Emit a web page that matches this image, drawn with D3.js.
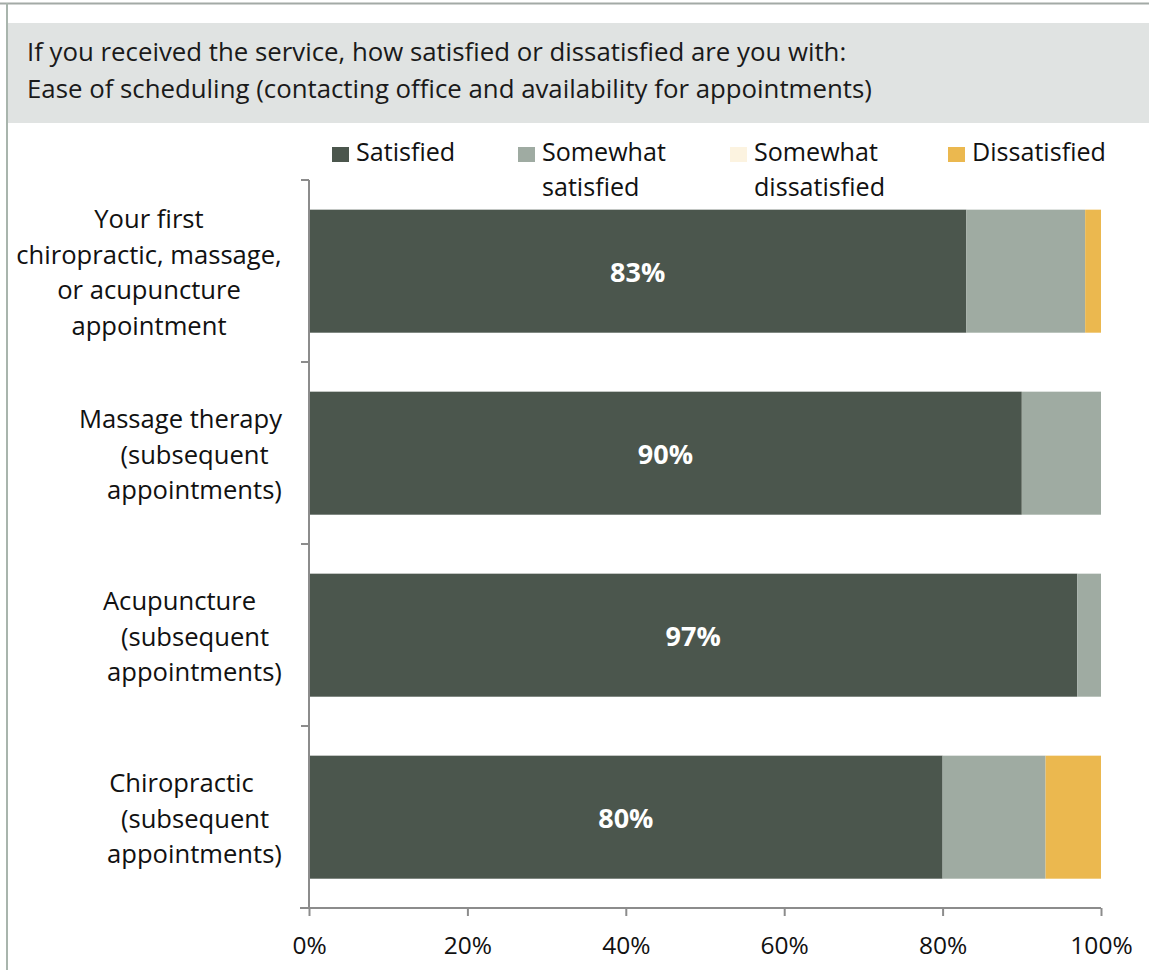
<!DOCTYPE html>
<html><head><meta charset="utf-8">
<script src="https://cdn.jsdelivr.net/npm/d3@7"></script>
<style>
html,body{margin:0;padding:0;background:#fff;}
svg{display:block;font-family:"Open Sans",sans-serif;}
</style></head>
<body>
<svg id="chart" width="1149" height="970"></svg>
<script>
const categories = ["first","massage","acupuncture","chiropractic"];
const categoryLines = [
  ["Your first","chiropractic, massage,","or acupuncture","appointment"],
  ["Massage therapy","(subsequent","appointments)"],
  ["Acupuncture","(subsequent","appointments)"],
  ["Chiropractic","(subsequent","appointments)"]
];
const seriesNames = ["Satisfied","Somewhat satisfied","Somewhat dissatisfied","Dissatisfied"];
const legendLines = [["Satisfied"],["Somewhat","satisfied"],["Somewhat","dissatisfied"],["Dissatisfied"]];
const satisfied = [83,90,97,80];
const somewhatSatisfied = [15,10,3,13];
const somewhatDissatisfied = [0,0,0,0];
const dissatisfied = [2,0,0,7];
const xTicks = [0,20,40,60,80,100];
const titleLines = ["If you received the service, how satisfied or dissatisfied are you with:",
  "Ease of scheduling (contacting office and availability for appointments)"];
const colors = ["#4b564d","#9faba2","#fcf3e0","#ebb84f"];

// layout: horizontal centre of each wrapped label line (as laid out in the original)
const labelLineCenters = [[149,149,149,149],[180.5,194.5,194.5],[179.5,195,194.5],[181.5,195,194.5]];

const svg = d3.select("#chart");
// frame lines
svg.append("line").attr("x1",0).attr("x2",1149).attr("y1",3.5).attr("y2",3.5).attr("stroke","#a3aaa6").attr("stroke-width",2);
svg.append("line").attr("x1",7).attr("x2",7).attr("y1",3).attr("y2",970).attr("stroke","#a9b5ad").attr("stroke-width",2);
// header
svg.append("rect").attr("x",8).attr("y",23).attr("width",1141).attr("height",100).attr("fill","#e0e3e2");
svg.selectAll(".title").data(titleLines).join("text")
  .attr("x",27).attr("y",(d,i)=>61+i*37)
  .attr("font-size",25.8).attr("fill","#1a1a1a").text(d=>d);

const x = d3.scaleLinear().domain([0,100]).range([309,1101]);
const y = d3.scaleBand().domain(categories).range([180,908]).padding(0);
const barOff = y.bandwidth()*0.163, barH = y.bandwidth()*0.676;

const rows = categories.map((c,i)=>({c, vals:[satisfied[i],somewhatSatisfied[i],somewhatDissatisfied[i],dissatisfied[i]]}));
const stack = d3.stack().keys([0,1,2,3]).value((d,k)=>d.vals[k]);
const stacked = stack(rows);

const g = svg.append("g");
stacked.forEach((layer,k)=>{
  g.selectAll(".s"+k).data(layer).join("rect")
    .attr("x",d=>x(d[0])).attr("width",d=>x(d[1])-x(d[0]))
    .attr("y",d=>y(d.data.c)+barOff).attr("height",barH)
    .attr("fill",colors[k]);
});
// data labels
g.selectAll(".lbl").data(rows).join("text")
  .attr("x",d=>(x(0)+x(d.vals[0]))/2).attr("y",d=>y(d.c)+y.bandwidth()/2+10.5)
  .attr("text-anchor","middle").attr("fill","#fff").attr("font-weight","bold")
  .attr("font-size",27).text(d=>d.vals[0]+"%");

// y axis
const axisColor="#8c8c8c";
svg.append("line").attr("x1",309).attr("x2",309).attr("y1",180).attr("y2",908).attr("stroke",axisColor).attr("stroke-width",2);
const bounds = categories.map(c=>y(c)).concat([y.range()[1]]);
svg.selectAll(".yt").data(bounds).join("line")
  .attr("x1",301).attr("x2",309).attr("y1",d=>d).attr("y2",d=>d).attr("stroke",axisColor).attr("stroke-width",2);
// category labels
categoryLines.forEach((lines,i)=>{
  const cy = y(categories[i])+y.bandwidth()/2;
  const n = lines.length, lh = 35.7;
  svg.append("text").attr("text-anchor","middle").attr("font-size",25.6).attr("fill","#111")
    .selectAll("tspan").data(lines).join("tspan")
    .attr("x",(d,j)=>labelLineCenters[i][j]).attr("y",(d,j)=>cy+(j-(n-1)/2)*lh+10.5).text(d=>d);
});

// x axis
const xa = svg.append("g").attr("transform","translate(0,908)")
  .call(d3.axisBottom(x).tickValues(xTicks).tickSize(8).tickFormat(d=>d+"%"));
xa.select(".domain").attr("stroke",axisColor).attr("stroke-width",2).attr("d","M300,0H1101");
xa.selectAll(".tick line").attr("stroke",axisColor).attr("stroke-width",2);
xa.selectAll(".tick text").attr("font-size",24.5).attr("fill","#111").attr("font-family","Open Sans, sans-serif")
  .attr("dy",0).attr("y",46);

// legend
const legX = [332,518,730,948];
const leg = svg.selectAll(".leg").data(seriesNames).join("g");
leg.append("rect").attr("x",(d,i)=>legX[i]).attr("y",147).attr("width",17).attr("height",15).attr("fill",(d,i)=>colors[i]);
leg.append("text").attr("font-size",25.1).attr("fill","#111")
  .each(function(d,i){
    d3.select(this).selectAll("tspan").data(legendLines[i]).join("tspan")
      .attr("x",legX[i]+24).attr("y",(t,j)=>161+j*35.3).text(t=>t);
  });
</script>
</body></html>
